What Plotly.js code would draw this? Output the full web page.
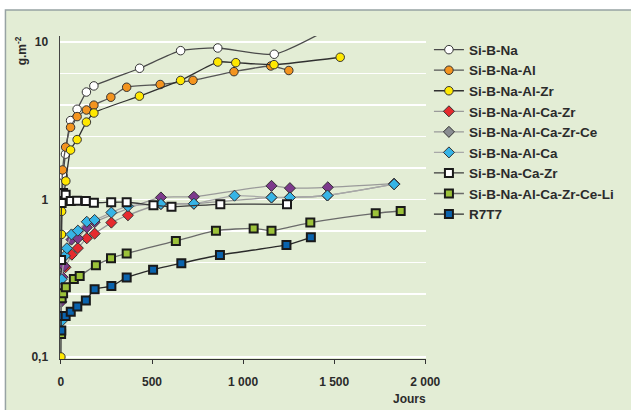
<!DOCTYPE html>
<html>
<head>
<meta charset="utf-8">
<script src="https://cdn.plot.ly/plotly-3.0.1.min.js"></script>
<style>html,body{margin:0;padding:0;background:#fff}#chart{width:631px;height:410px}</style>
</head>
<body>
<div id="chart"></div>
<script>
// ---- data (days, g.m-2) ----
const names = ['Si-B-Na','Si-B-Na-Al','Si-B-Na-Al-Zr','Si-B-Na-Al-Ca-Zr','Si-B-Na-Al-Ca-Zr-Ce','Si-B-Na-Al-Ca','Si-B-Na-Ca-Zr','Si-B-Na-Al-Ca-Zr-Ce-Li','R7T7'];

const xSiBNa = [0, 12, 25, 53, 89, 140, 181, 432, 657, 861, 1171, 1520];
const ySiBNa = [0.37, 1.41, 1.94, 3.17, 3.74, 4.81, 5.26, 6.81, 8.81, 9.16, 8.36, 13];

const xAl = [0, 9, 26, 53, 89, 140, 181, 274, 361, 545, 725, 950, 1152, 1251];
const yAl = [0.31, 1.54, 2.15, 2.87, 3.36, 3.70, 3.97, 4.46, 5.16, 5.37, 5.71, 6.48, 7.04, 6.59];

const xAlZr = [0, 3, 4, 27, 53, 89, 140, 181, 431, 657, 861, 960, 1170, 1533];
const yAlZr = [0.10, 0.60, 0.84, 1.31, 2.06, 2.40, 3.10, 3.54, 4.53, 5.70, 7.46, 7.39, 7.18, 8.0];

const xCaZr = [25, 60, 93, 142, 185, 277, 368, 549, 730, 1156, 1257, 1463, 1829];
const yCaZr = [0.371, 0.446, 0.491, 0.567, 0.607, 0.713, 0.794, 0.936, 0.94, 1.03, 1.03, 1.06, 1.25];

const xCe = [2, 9, 18, 58, 93, 142, 185, 549, 730, 1156, 1257, 1465, 1829];
const yCe = [0.224, 0.321, 0.378, 0.556, 0.567, 0.664, 0.717, 1.03, 1.04, 1.22, 1.18, 1.195, 1.26];

const xCa = [2, 4, 22, 33, 58, 93, 142, 185, 277, 368, 549, 730, 953, 1156, 1257, 1463, 1829];
const yCa = [0.168, 0.311, 0.438, 0.49, 0.60, 0.634, 0.722, 0.741, 0.826, 0.906, 0.936, 0.94, 1.057, 1.03, 1.03, 1.06, 1.25];

const xNaCaZr = [1, 4, 12, 26, 54, 89, 137, 181, 276, 361, 508, 607, 875, 1241];
const yNaCaZr = [0.413, 0.95, 1.10, 1.07, 0.978, 0.983, 0.978, 0.954, 0.96, 0.96, 0.919, 0.90, 0.932, 0.932];

const xLi = [1, 4, 12, 27, 71, 103, 192, 275, 361, 631, 851, 1058, 1156, 1369, 1728, 1865];
const yLi = [0.14, 0.236, 0.254, 0.277, 0.313, 0.327, 0.382, 0.423, 0.454, 0.545, 0.634, 0.655, 0.634, 0.713, 0.817, 0.845];

const xR7T7 = [2, 4, 26, 54, 90, 137, 185, 277, 361, 506, 661, 873, 1238, 1372];
const yR7T7 = [0.147, 0.182, 0.182, 0.194, 0.209, 0.228, 0.269, 0.282, 0.319, 0.358, 0.394, 0.444, 0.514, 0.575];

const xTickVals = [0, 500, 1000, 1500, 2000];
const xTickText = ['0', '500', '1 000', '1 500', '2 000'];
const yLabelVals = [0.1, 1, 10];
const yLabelText = ['0,1', '1', '10'];
const yGridVals = [0.1, 0.1585, 0.2512, 0.3981, 0.631, 1, 1.585, 2.512, 3.981, 6.31, 10];

// ---- styles ----
const FONT = 'Liberation Sans, Arial, sans-serif';
const TXT = '#2b2b2b';

function tr(name, x, y, sym, fill, lineCol, extra) {
  const t = {
    type: 'scatter', mode: 'lines+markers', name: name, x: x, y: y,
    line: {color: lineCol, width: 1.3, shape: 'spline', smoothing: 0.6},
    marker: {symbol: sym, color: fill, size: 8.5, line: {color: '#333', width: 1}},
    cliponaxis: true
  };
  return Object.assign(t, extra || {});
}

const sq = {color: '#1a1a1a', width: 2};

const traces = [
  tr(names[0], xSiBNa, ySiBNa, 'circle', '#ffffff', '#4a4a4a'),
  tr(names[1], xAl, yAl, 'circle', '#f3941f', '#555555'),
  tr(names[2], xAlZr, yAlZr, 'circle', '#ffe800', '#303030'),
  tr(names[3], xCaZr, yCaZr, 'diamond', '#e62a2e', '#9a9a9a'),
  // legend entry for the Ce series (grey in legend)
  {type: 'scatter', mode: 'lines+markers', name: names[4], x: [null], y: [null], legendgroup: 'ce',
   line: {color: '#9a9a9a', width: 1.3}, marker: {symbol: 'diamond', color: '#8a8d92', size: 8.5, line: {color: '#333', width: 1}}},
  tr(names[4], xCe, yCe, 'diamond', '#7d3a8c', '#9a9a9a', {showlegend: false, legendgroup: 'ce'}),
  tr(names[5], xCa, yCa, 'diamond', '#36b4e6', '#a8a8a8'),
  tr(names[6], xNaCaZr, yNaCaZr, 'square', '#ffffff', '#3a3a3a'),
  tr(names[7], xLi, yLi, 'square', '#9cc23a', '#6a6a6a'),
  tr(names[8], xR7T7, yR7T7, 'square', '#0a63ad', '#2a2a2a')
];
traces.forEach(t => { if (t.marker.symbol === 'square') { t.marker.line = sq; t.marker.size = 8; } });

const layout = {
  width: 631, height: 410,
  margin: {l: 60, r: 202, t: 36, b: 51, pad: 0},
  paper_bgcolor: '#ffffff',
  plot_bgcolor: '#d6dee4',
  font: {family: FONT, size: 12, color: TXT, weight: 'bold'},
  showlegend: true,
  legend: {x: 1.008, y: 1.005, xanchor: 'left', yanchor: 'top', bgcolor: 'rgba(0,0,0,0)',
           font: {family: FONT, size: 13.5, color: TXT, weight: 'bold'}, tracegroupgap: 0},
  xaxis: {
    range: [-5, 2004], tickmode: 'array', tickvals: xTickVals, ticktext: xTickText,
    showgrid: false, zeroline: false, showline: true, linecolor: '#333', linewidth: 1,
    ticks: 'outside', ticklen: 4, tickcolor: '#333', ticklabelstandoff: 8,
    tickfont: {family: FONT, size: 12, color: TXT, weight: 'bold'}
  },
  yaxis: {
    type: 'log', range: [-1.013, 1.038], tickmode: 'array', tickvals: yGridVals,
    ticktext: yGridVals.map(v => { const i = yLabelVals.findIndex(w => Math.abs(w - v) < 1e-6); return i >= 0 ? yLabelText[i] : ' '; }),
    showgrid: true, gridcolor: '#ffffff', gridwidth: 1.5, zeroline: false,
    showline: true, linecolor: '#444', linewidth: 1.5, ticks: '',
    ticklabelstandoff: 8,
    tickfont: {family: FONT, size: 12, color: TXT, weight: 'bold'}
  },
  yaxis2: {
    type: 'log', range: [-1.013, 1.038], overlaying: 'y', anchor: 'x', side: 'left',
    tickmode: 'array', tickvals: yLabelVals, showticklabels: false, showgrid: false,
    zeroline: false, showline: false, ticks: 'outside', ticklen: 4, tickcolor: '#333'
  },
  shapes: [
    {type: 'rect', xref: 'paper', yref: 'paper', layer: 'below',
     x0: (5 - 60) / 369, x1: (640 - 60) / 369, y0: (359 - 415) / 323, y1: (359 - 10) / 323,
     fillcolor: '#e3edd5', line: {color: '#97a3a3', width: 1.5}}
  ],
  annotations: [
    {text: 'g.m<sup>-2</sup>', xref: 'paper', yref: 'paper', x: (21 - 60) / 369, y: (359 - 51) / 323,
     xanchor: 'center', yanchor: 'middle', showarrow: false, textangle: -90,
     font: {family: FONT, size: 12, color: TXT, weight: 'bold'}},
    {text: 'Jours', xref: 'paper', yref: 'paper', x: (412 - 60) / 369, y: (359 - 399) / 323,
     xanchor: 'center', yanchor: 'middle', showarrow: false,
     font: {family: FONT, size: 12, color: TXT, weight: 'bold'}}
  ]
};

Plotly.newPlot('chart', traces, layout, {displayModeBar: false, staticPlot: true});
</script>
</body>
</html>
